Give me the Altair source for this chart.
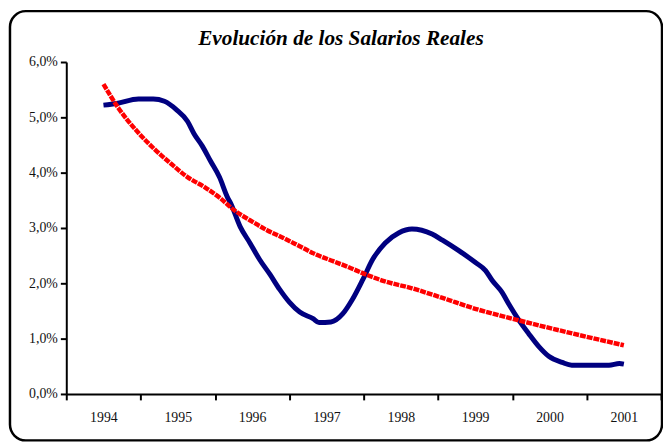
import altair as alt
import pandas as pd

title_text = ["Evolución de los Salarios Reales"]

# Blue series: real wages (as % values)
blue_years = [1994.00, 1994.18, 1994.47, 1994.67, 1994.82, 1994.98, 1995.13, 1995.22,
              1995.33, 1995.44, 1995.56, 1995.67, 1995.71, 1995.84, 1995.97, 1996.10,
              1996.24, 1996.37, 1996.50, 1996.64, 1996.82, 1996.90, 1997.06, 1997.22,
              1997.35, 1997.49, 1997.62, 1997.79, 1997.97, 1998.15, 1998.42, 1998.56,
              1998.78, 1999.00, 1999.14, 1999.23, 1999.36, 1999.45, 1999.59, 1999.72,
              1999.86, 1999.99, 2000.17, 2000.30, 2000.80, 2000.94, 2001.00]
blue_vals = [5.22, 5.25, 5.33, 5.33, 5.29, 5.14, 4.93, 4.70,
             4.48, 4.21, 3.92, 3.55, 3.45, 3.02, 2.73, 2.43,
             2.16, 1.89, 1.66, 1.48, 1.36, 1.29, 1.30, 1.45,
             1.71, 2.07, 2.43, 2.73, 2.91, 2.98, 2.89, 2.78,
             2.59, 2.38, 2.23, 2.05, 1.84, 1.63, 1.33, 1.09,
             0.85, 0.68, 0.57, 0.52, 0.52, 0.55, 0.54]

# Red series: trend line
red_years = [1994.00, 1994.20, 1994.47, 1994.69, 1994.91, 1995.13, 1995.36, 1995.57,
             1995.76, 1995.97, 1996.20, 1996.42, 1996.64, 1996.86, 1997.09, 1997.30,
             1997.53, 1997.75, 1998.15, 1998.55, 1999.00, 1999.56, 2000.32, 2001.00]
red_vals = [5.60, 5.17, 4.72, 4.42, 4.16, 3.92, 3.74, 3.54,
            3.32, 3.14, 2.96, 2.82, 2.67, 2.52, 2.40, 2.29,
            2.16, 2.05, 1.91, 1.74, 1.54, 1.34, 1.09, 0.88]

year_labels = ["1994", "1995", "1996", "1997", "1998", "1999", "2000", "2001"]
y_ticks = [0.0, 0.01, 0.02, 0.03, 0.04, 0.05, 0.06]

blue_df = pd.DataFrame({"year": blue_years, "value": [v / 100 for v in blue_vals]})
red_df = pd.DataFrame({"year": red_years, "value": [v / 100 for v in red_vals]})
title_df = pd.DataFrame({"t": title_text})

boundaries = [1993.5 + i for i in range(len(year_labels) + 1)]
label_expr = "datum.value < 2001 ? format(datum.value + 0.5, 'd') : ''"

FONT = "'Liberation Serif', 'Times New Roman', Times, serif"

x_enc = alt.X(
    "year:Q",
    scale=alt.Scale(domain=[boundaries[0], boundaries[-1]], nice=False, zero=False),
    axis=alt.Axis(
        values=boundaries, labelExpr=label_expr, labelOffset=37.6,
        title=None, grid=False, tickSize=6, tickWidth=2, tickColor="black",
        domainColor="black", domainWidth=2, labelPadding=11,
        labelFont=FONT, labelFontSize=14, labelColor="#111",
        labelOverlap=False, labelBound=False, labelFlush=False,
    ),
)
y_enc = alt.Y(
    "value:Q",
    scale=alt.Scale(domain=[0, 0.06], nice=False),
    axis=alt.Axis(
        values=y_ticks,
        labelExpr="replace(format(datum.value, '.1%'), '.', ',')",
        title=None, grid=False, tickSize=6, tickWidth=2, tickColor="black",
        domainColor="black", domainWidth=2, labelPadding=3,
        labelFont=FONT, labelFontSize=14, labelColor="#111",
    ),
)

blue = alt.Chart(blue_df).mark_line(
    color="#000080", strokeWidth=5, interpolate="monotone"
).encode(x=x_enc, y=y_enc)

red = alt.Chart(red_df).mark_line(
    color="#FF0000", strokeWidth=4.5, strokeDash=[6, 1], interpolate="monotone"
).encode(x=x_enc, y=y_enc)

border = alt.Chart(alt.Data(values=[{"b": 1}])).mark_rect(
    fill=None, stroke="black", strokeWidth=2.5, cornerRadius=16, clip=False
).encode(
    x=alt.value(-57), x2=alt.value(603), y=alt.value(-51.5), y2=alt.value(383)
)

title = alt.Chart(title_df).mark_text(
    font=FONT, fontSize=21.5, fontStyle="italic", fontWeight="bold",
    color="black", align="center", baseline="alphabetic",
).encode(text="t:N", x=alt.value(278), y=alt.value(-17))

chart = alt.layer(border, blue, red, title).properties(
    width=602,
    height=336,
    autosize="none",
    padding={"left": 59, "top": 52, "right": 2, "bottom": 49},
).configure_view(stroke=None)

chart.save("out.html", embed_options={"renderer": "svg", "actions": False})
